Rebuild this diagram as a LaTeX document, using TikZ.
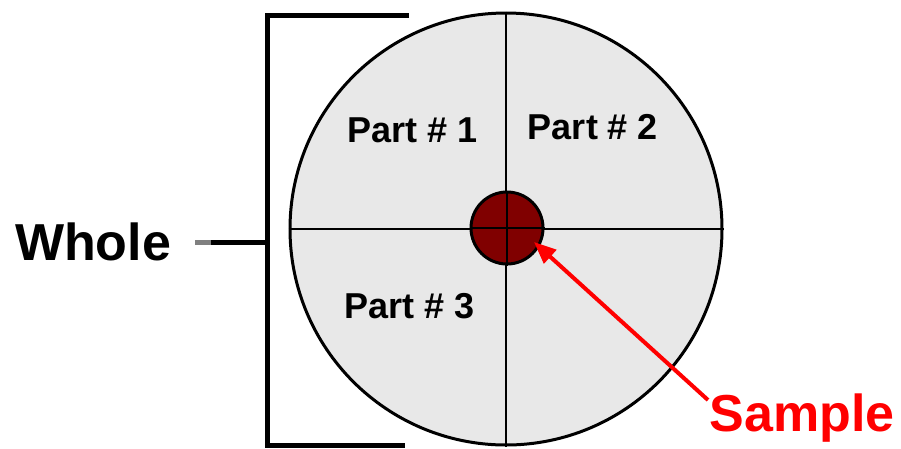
\documentclass[tikz,border=0pt]{standalone}
\usepackage{fontspec}
\setmainfont{Liberation Sans}
\usetikzlibrary{arrows.meta}
\definecolor{discfill}{HTML}{E8E8E8}
\definecolor{samplered}{HTML}{800000}
\tikzset{
  lbl/.style={font=\bfseries\fontsize{36}{36}\selectfont, inner sep=0pt},
  biglbl/.style={font=\bfseries\fontsize{52}{52}\selectfont, inner sep=0pt},
  bracketline/.style={line width=5pt, line cap=rect},
}
\begin{document}
\begin{tikzpicture}[x=1pt,y=-1pt]
\useasboundingbox (0,0) rectangle (901,448);
% disc
\node[circle, draw=black, line width=3pt, fill=discfill, minimum size=432pt, inner sep=0pt] (disc) at (506,229) {};
\draw[line width=2pt] (disc.west) -- (disc.east);
\draw[line width=2pt] (disc.north) -- (disc.south);
% sample dot
\node[circle, draw=black, line width=3pt, fill=samplered, minimum size=72pt, inner sep=0pt] (dot) at (507,228) {};
\draw[line width=2pt] (dot.west) -- (dot.east);
\draw[line width=2pt] (dot.north) -- (dot.south);
% labels
\node[lbl] (p1) at (413,130) {Part \# 1};
\node[lbl] (p2) at (593,127) {Part \# 2};
\node[lbl] (p3) at (410,306) {Part \# 3};
\node[biglbl] (whole) at (93,242) {Whole};
\node[biglbl, text=red] (sample) at (802,418) {Sample};
% bracket
\coordinate (btop) at (267,15);
\coordinate (bbot) at (267,445);
\coordinate (bmid) at (267,242);
\coordinate (stem) at (211,242);
\coordinate (stemg) at (195,242);
\draw[bracketline, line cap=butt] (409,15) -- (btop) -- (bbot) -- (405,445);
\draw[line width=5pt] (bmid) -- (stem);
\draw[line width=5pt, gray] (stem) -- (stemg);
% arrow
\coordinate (arrstart) at (708,400);
\coordinate (arrtip) at (534,242);
\draw[red, line width=4pt, -{Triangle[length=22pt,width=18pt]}] (arrstart) -- (arrtip);
\end{tikzpicture}
\end{document}
